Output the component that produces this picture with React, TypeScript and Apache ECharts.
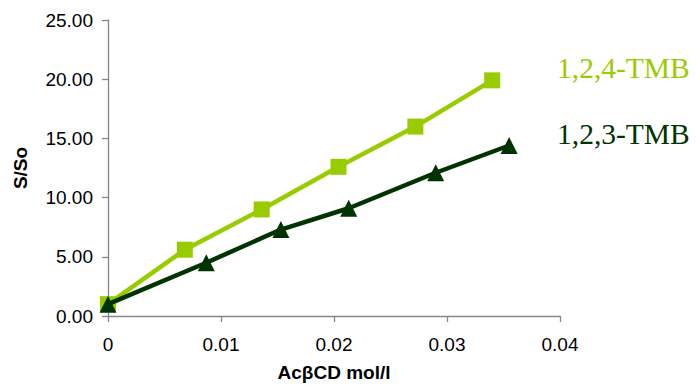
import React, { useEffect, useRef } from "react";
import * as echarts from "echarts";

const xTicks = [0, 0.01, 0.02, 0.03, 0.04];
const yTicks = [0, 5, 10, 15, 20, 25];

const tmb124X = [0, 0.0068, 0.0136, 0.0204, 0.0272, 0.034];
const tmb124Y = [1.0, 5.6, 9.0, 12.6, 16.0, 19.9];

const tmb123X = [0, 0.0087, 0.0153, 0.0213, 0.029, 0.0355];
const tmb123Y = [1.0, 4.5, 7.3, 9.1, 12.1, 14.4];

const seriesNames = ["1,2,4-TMB", "1,2,3-TMB"];
const LIGHT = "#99CC00";
const DARK = "#003300";

export default function App() {
  const ref = useRef<HTMLDivElement>(null);
  useEffect(() => {
    if (!ref.current) return;
    const chart = echarts.init(ref.current, null, { renderer: "svg" });
    const pair = (xs: number[], ys: number[]) => xs.map((x, i) => [x, ys[i]]);
    chart.setOption({
      animation: false,
      backgroundColor: "#ffffff",
      grid: { left: 108, right: 139, top: 20, bottom: 70, containLabel: false },
      xAxis: {
        type: "value",
        min: xTicks[0],
        max: xTicks[xTicks.length - 1],
        interval: 0.01,
        name: "AcβCD mol/l",
        nameLocation: "middle",
        nameGap: 47,
        nameTextStyle: { fontFamily: "Liberation Sans, Arial", fontWeight: "bold", fontSize: 19, color: "#000" },
        axisLine: { show: true, lineStyle: { color: "#868686", width: 1.3 } },
        axisTick: { show: true, length: 6, lineStyle: { color: "#868686", width: 1.3 } },
        axisLabel: {
          fontFamily: "Liberation Sans, Arial",
          fontSize: 19,
          color: "#000",
          margin: 19,
          formatter: (v: number) => (v === 0 ? "0" : String(parseFloat(v.toFixed(2)))),
        },
        splitLine: { show: false },
      },
      yAxis: {
        type: "value",
        min: yTicks[0],
        max: yTicks[yTicks.length - 1],
        interval: 5,
        name: "S/So",
        nameLocation: "middle",
        nameGap: 78,
        nameTextStyle: { fontFamily: "Liberation Sans, Arial", fontWeight: "bold", fontSize: 19, color: "#000" },
        axisLine: { show: true, lineStyle: { color: "#868686", width: 1.3 } },
        axisTick: { show: true, length: 6, lineStyle: { color: "#868686", width: 1.3 } },
        axisLabel: {
          fontFamily: "Liberation Sans, Arial",
          fontSize: 19,
          color: "#000",
          margin: 15,
          formatter: (v: number) => v.toFixed(2),
        },
        splitLine: { show: false },
      },
      series: [
        {
          name: seriesNames[0],
          type: "line",
          data: pair(tmb124X, tmb124Y),
          symbol: "rect",
          symbolSize: 16,
          lineStyle: { color: LIGHT, width: 4.5 },
          itemStyle: { color: LIGHT },
          z: 2,
        },
        {
          name: seriesNames[1],
          type: "line",
          data: pair(tmb123X, tmb123Y),
          symbol: "triangle",
          symbolSize: 17,
          lineStyle: { color: DARK, width: 4.5 },
          itemStyle: { color: DARK },
          z: 3,
        },
      ],
      graphic: [
        {
          type: "text",
          left: 557,
          top: 53,
          style: { text: seriesNames[0], fill: LIGHT, fontFamily: "Liberation Serif, Times New Roman", fontSize: 29.5 },
        },
        {
          type: "text",
          left: 557,
          top: 119,
          style: { text: seriesNames[1], fill: DARK, fontFamily: "Liberation Serif, Times New Roman", fontSize: 29.5 },
        },
      ],
    });
    return () => chart.dispose();
  }, []);
  return (
    <div
      ref={ref}
      style={{ position: "fixed", left: 0, top: 0, width: 699, height: 387, background: "#fff" }}
    />
  );
}
